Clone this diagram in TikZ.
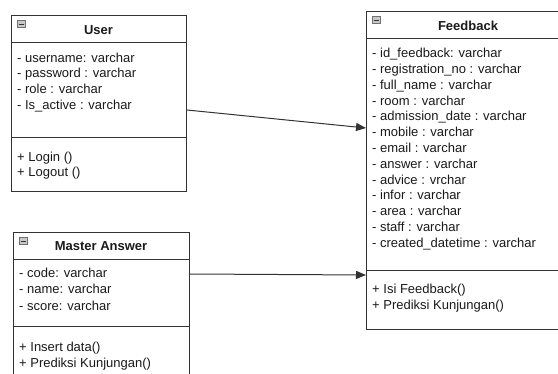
\documentclass[tikz,border=0pt]{standalone}
\usepackage{fontspec}
\setmainfont{Liberation Sans}
\usetikzlibrary{arrows.meta}
\definecolor{edge}{HTML}{333333}
\definecolor{ink}{HTML}{1A1A1A}
\definecolor{iconfill}{HTML}{C8C8C8}
\tikzset{
  classbox/.style={draw=edge, line width=1pt, fill=white, rectangle,
    inner sep=0pt, anchor=north west},
  divider/.style={draw=edge, line width=1pt},
  title/.style={font=\fontsize{13}{15}\selectfont\bfseries, text=ink, inner sep=0pt},
  member/.style={font=\fontsize{13}{15}\selectfont, text=ink, inner sep=0pt,
    anchor=base west},
  icon/.style={draw=edge!70, line width=0.6pt, fill=iconfill, rectangle,
    minimum size=7.5pt, inner sep=0pt, anchor=north west},
  assoc/.style={draw=edge, line width=1pt,
    -{Triangle[length=10pt,width=8pt]}}
}
\begin{document}
\begin{tikzpicture}[x=1pt,y=-1pt]
\useasboundingbox (0,0) rectangle (558,374);
\clip (0,0) rectangle (558,374);
\fill[white] (0,0) rectangle (558,374);

% ---- User ----
\node[classbox, minimum width=175pt, minimum height=176pt] (user) at (11,15) {};
\draw[divider] (11,43) -- (186,43);
\draw[divider] (11,138) -- (186,138);
\node[icon] (usericon) at (17,20) {};
\draw[edge, line width=0.8pt] ([xshift=1.6pt]usericon.west) -- ([xshift=-1.6pt]usericon.east);
\node[title] (usertitle) at (98.5,30) {User};
\node[member] (u1) at (17,62.5) {- username: varchar};
\node[member] (u2) at (17,78) {- password : varchar};
\node[member] (u3) at (17,93.5) {- role : varchar};
\node[member] (u4) at (17,109.5) {- Is\_active : varchar};
\node[member] (u5) at (17,161.5) {+ Login ()};
\node[member] (u6) at (17,177) {+ Logout ()};

% ---- Master Answer ----
\node[classbox, minimum width=176pt, minimum height=150pt] (master) at (13,232) {};
\draw[divider] (13,260) -- (189,260);
\draw[divider] (13,327) -- (189,327);
\node[icon] (mastericon) at (19,237) {};
\draw[edge, line width=0.8pt] ([xshift=1.6pt]mastericon.west) -- ([xshift=-1.6pt]mastericon.east);
\node[title] (mastertitle) at (101,246.5) {Master Answer};
\node[member] (m1) at (19,277.5) {- code: varchar};
\node[member] (m2) at (19,294) {- name: varchar};
\node[member] (m3) at (19,311) {- score: varchar};
\node[member] (m4) at (19,351.5) {+ Insert data()};
\node[member] (m5) at (19,368) {+ Prediksi Kunjungan()};

% ---- Feedback ----
\node[classbox, minimum width=205pt, minimum height=318pt] (feedback) at (366,11) {};
\draw[divider] (366,39) -- (571,39);
\draw[divider] (366,271) -- (571,271);
\node[icon] (fbicon) at (372,16) {};
\draw[edge, line width=0.8pt] ([xshift=1.6pt]fbicon.west) -- ([xshift=-1.6pt]fbicon.east);
\node[title] (fbtitle) at (468,25.5) {Feedback};
\foreach \txt [count=\i] in {%
  {- id\_feedback: varchar},
  {- registration\_no : varchar},
  {- full\_name : varchar},
  {- room : varchar},
  {- admission\_date : varchar},
  {- mobile : varchar},
  {- email : varchar},
  {- answer : varchar},
  {- advice : vrchar},
  {- infor : varchar},
  {- area : varchar},
  {- staff : varchar},
  {- created\_datetime : varchar}}
  \node[member] (f\i) at (372,{57.7+15.8*(\i-1)}) {\txt};
\node[member] (f14) at (372,293.5) {+ Isi Feedback()};
\node[member] (f15) at (372,310) {+ Prediksi Kunjungan()};

% ---- associations ----
\draw[assoc] (user.east |- 0,110) -- (feedback.west |- 0,128);
\draw[assoc] (master.east |- 0,274) -- (feedback.west |- 0,275);
\end{tikzpicture}
\end{document}
